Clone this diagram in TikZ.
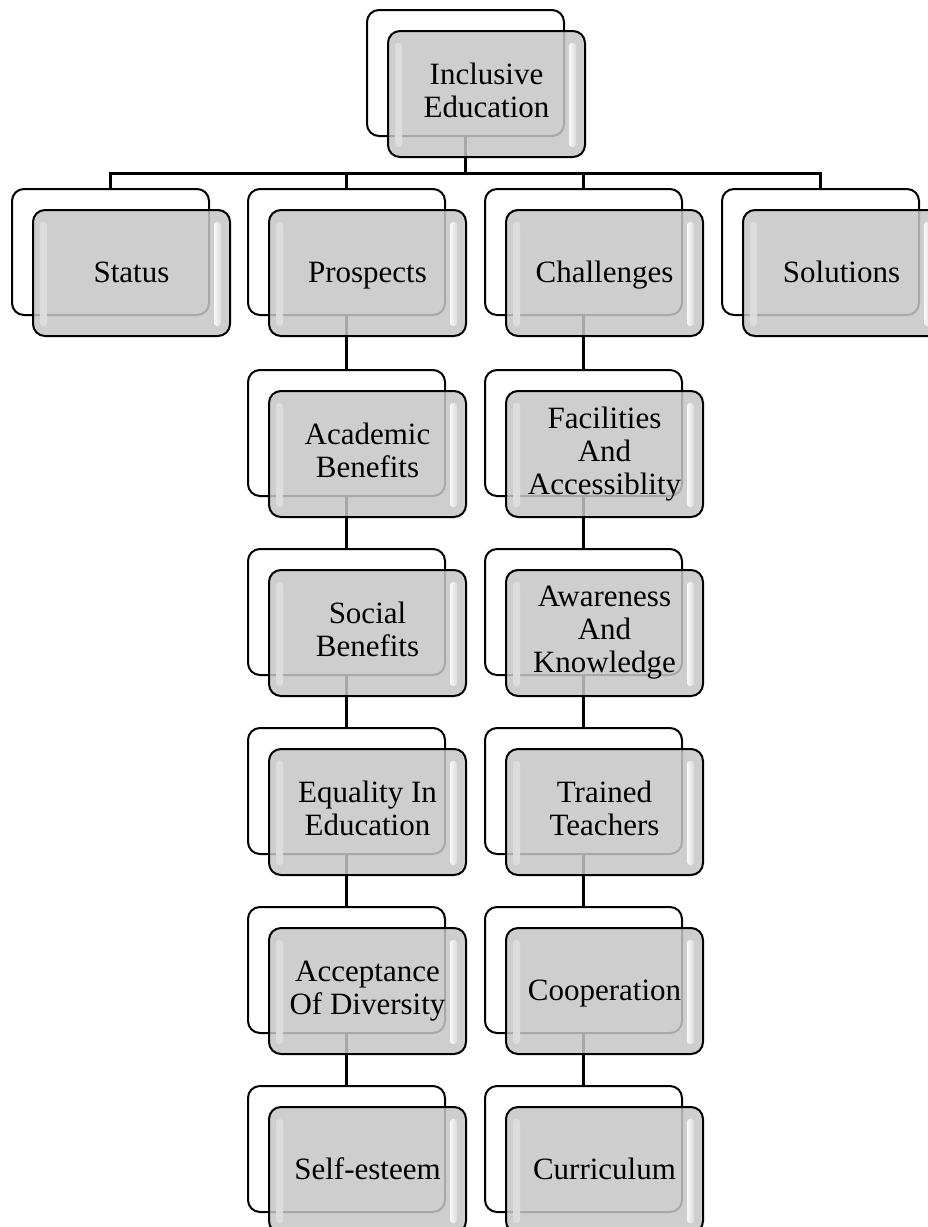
\documentclass[tikz,border=0pt]{standalone}
\usepackage{fontspec}
\setmainfont{Liberation Serif}
\definecolor{boxgray}{RGB}{198,198,198}
\newcommand\backat[3]{\node[backbox] (#1-b) at (#2,#3) {};}
\newcommand\frontat[4]{\node[frontbox] (#1) at ({#2+21},{#3+21}) {#4};}
\begin{document}
\begin{tikzpicture}[x=1pt,y=-1pt,
  backbox/.style={draw=black,line width=2pt,rounded corners=12pt,minimum width=197pt,minimum height=126pt,inner sep=0pt,outer sep=0pt},
  frontbox/.style={draw=black,line width=2pt,rounded corners=12pt,minimum width=197pt,minimum height=126pt,inner sep=0pt,outer sep=0pt,
    fill=boxgray,fill opacity=0.85,text opacity=1,draw opacity=1,align=center,font=\fontsize{31}{33}\selectfont,
    execute at begin node={\rule{0pt}{26pt}}, execute at end node={\rule[-7pt]{0pt}{7pt}},
    path picture={
      \shade[left color=white!40!boxgray,right color=white,fill opacity=0.9,rounded corners=3pt]
        ([xshift=7pt,yshift=-12pt]path picture bounding box.north west) rectangle
        ([xshift=14pt,yshift=10pt]path picture bounding box.south west);
      \shade[left color=white,right color=white!40!boxgray,fill opacity=0.9,rounded corners=3pt]
        ([xshift=-9pt,yshift=-12pt]path picture bounding box.north east) rectangle
        ([xshift=-16pt,yshift=10pt]path picture bounding box.south east);
    }},
  conn/.style={line width=3pt}]
\path[use as bounding box,clip] (0,0) rectangle (928,1227);
% back boxes
\backat{top}{465.5}{73}
\backat{status}{110.5}{252}
\backat{prospects}{346.5}{252}
\backat{challenges}{583.5}{252}
\backat{solutions}{820.5}{252}
\backat{academic}{346.5}{433}
\backat{social}{346.5}{612}
\backat{equality}{346.5}{791}
\backat{acceptance}{346.5}{970}
\backat{selfesteem}{346.5}{1149}
\backat{facilities}{583.5}{433}
\backat{awareness}{583.5}{612}
\backat{trained}{583.5}{791}
\backat{cooperation}{583.5}{970}
\backat{curriculum}{583.5}{1149}
% connectors
\coordinate (bus) at (0,173);
\draw[conn] (top-b.south) -- (top-b.south |- bus);
\draw[conn] (status-b.north) -- (status-b.north |- bus) -- (solutions-b.north |- bus) -- (solutions-b.north);
\draw[conn] (prospects-b.north) -- (prospects-b.north |- bus);
\draw[conn] (challenges-b.north) -- (challenges-b.north |- bus);
\draw[conn] (prospects-b.south) -- (academic-b.north);
\draw[conn] (academic-b.south) -- (social-b.north);
\draw[conn] (social-b.south) -- (equality-b.north);
\draw[conn] (equality-b.south) -- (acceptance-b.north);
\draw[conn] (acceptance-b.south) -- (selfesteem-b.north);
\draw[conn] (challenges-b.south) -- (facilities-b.north);
\draw[conn] (facilities-b.south) -- (awareness-b.north);
\draw[conn] (awareness-b.south) -- (trained-b.north);
\draw[conn] (trained-b.south) -- (cooperation-b.north);
\draw[conn] (cooperation-b.south) -- (curriculum-b.north);
% front boxes
\frontat{top}{465.5}{73}{Inclusive\\Education}
\frontat{status}{110.5}{252}{Status}
\frontat{prospects}{346.5}{252}{Prospects}
\frontat{challenges}{583.5}{252}{Challenges}
\frontat{solutions}{820.5}{252}{Solutions}
\frontat{academic}{346.5}{433}{Academic\\Benefits}
\frontat{social}{346.5}{612}{Social\\Benefits}
\frontat{equality}{346.5}{791}{Equality In\\Education}
\frontat{acceptance}{346.5}{970}{Acceptance\\Of Diversity}
\frontat{selfesteem}{346.5}{1149}{Self-esteem}
\frontat{facilities}{583.5}{433}{Facilities\\And\\Accessiblity}
\frontat{awareness}{583.5}{612}{Awareness\\And\\Knowledge}
\frontat{trained}{583.5}{791}{Trained\\Teachers}
\frontat{cooperation}{583.5}{970}{Cooperation}
\frontat{curriculum}{583.5}{1149}{Curriculum}
\end{tikzpicture}
\end{document}
